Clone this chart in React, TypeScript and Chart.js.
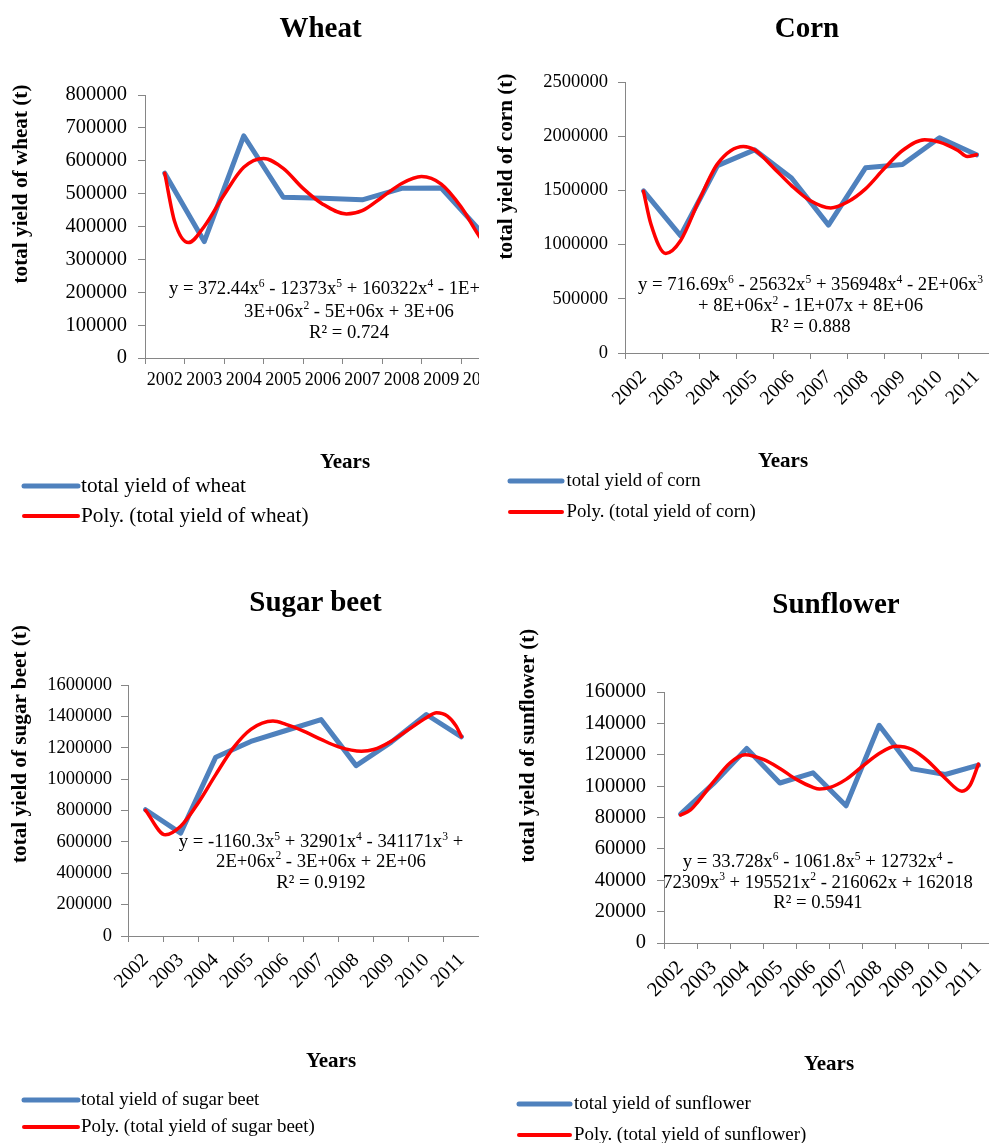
import React, { useEffect, useRef } from 'react';
import { Chart, registerables } from 'chart.js';

Chart.register(...registerables);

// ---------- data ----------
const years = ['2002', '2003', '2004', '2005', '2006', '2007', '2008', '2009', '2010', '2011'];

const wheatYield = [562000, 354000, 676000, 489000, 486000, 481000, 516000, 517000, 385000, 420000];
const wheatTrendX = [0, 0.25, 0.6, 1, 1.5, 2, 2.5, 3, 3.5, 4, 4.6, 5, 5.5, 6, 6.5, 7, 7.5, 8, 8.5, 9];
const wheatTrendY = [562000, 415000, 351000, 400000, 496000, 580000, 607000, 577000, 516000, 468000, 438000, 448000, 489000, 531000, 552000, 529000, 460000, 364000, 300000, 330000];

const cornYield = [1495000, 1082000, 1729000, 1874000, 1615000, 1180000, 1708000, 1739000, 1985000, 1828000];
const cornTrendX = [0, 0.2, 0.6, 1, 1.5, 2, 2.7, 3, 3.5, 4, 4.5, 5.06, 5.5, 6, 6.5, 7, 7.6, 8, 8.5, 8.75, 9];
const cornTrendY = [1492000, 1190000, 919000, 1036000, 1406000, 1745000, 1905000, 1874000, 1714000, 1544000, 1406000, 1338000, 1390000, 1514000, 1699000, 1868000, 1967000, 1945000, 1868000, 1813000, 1828000];

const sugarYield = [805000, 656000, 1140000, 1240000, 1310000, 1380000, 1086000, 1236000, 1412000, 1270000];
const sugarTrendX = [0, 0.565, 1, 1.5, 2, 2.5, 3, 3.63, 4, 4.5, 5, 5.5, 6.15, 6.5, 7, 7.5, 8, 8.29, 8.6, 8.85, 9];
const sugarTrendY = [801000, 645000, 699000, 848000, 1029000, 1199000, 1317000, 1370000, 1349000, 1306000, 1253000, 1206000, 1178000, 1189000, 1242000, 1317000, 1391000, 1423000, 1402000, 1338000, 1270000];

const sunYield = [82200, 101700, 124000, 102000, 108500, 87500, 138800, 111000, 107400, 113400];
const sunTrendX = [0, 0.3, 0.5, 1, 1.5, 1.95, 2.5, 3, 3.5, 4, 4.2, 4.5, 5, 5.5, 6, 6.5, 7, 7.5, 8, 8.5, 8.75, 9];
const sunTrendY = [81600, 84800, 89400, 102800, 114900, 120000, 117000, 111300, 104300, 99200, 98100, 99000, 104300, 112700, 120800, 125400, 123300, 115500, 104900, 96800, 100700, 114000];

const wheatAxis = { max: 800000, step: 100000 };
const cornAxis = { max: 2500000, step: 500000 };
const sugarAxis = { max: 1600000, step: 200000 };
const sunAxis = { max: 160000, step: 20000 };

const wheatEq = ['y = 372.44x^6 - 12373x^5 + 160322x^4 - 1E+06x^3 +', '3E+06x^2 - 5E+06x + 3E+06', 'R² = 0.724'];
const cornEq = ['y = 716.69x^6 - 25632x^5 + 356948x^4 - 2E+06x^3', '+ 8E+06x^2 - 1E+07x + 8E+06', 'R² = 0.888'];
const sugarEq = ['y = -1160.3x^5 + 32901x^4 - 341171x^3 +', '2E+06x^2 - 3E+06x + 2E+06', 'R² = 0.9192'];
const sunEq = ['y = 33.728x^6 - 1061.8x^5 + 12732x^4 -', '72309x^3 + 195521x^2 - 216062x + 162018', 'R² = 0.5941'];

// ---------- styles ----------
const FONT = "'Liberation Serif', 'Times New Roman', serif";
const BLUE = '#4F81BD';
const RED = '#FF0000';
const AXIS = '#868686';
const YW = 110;
const PAD_TOP = 15;
const XH = 80;

type Spec = {
  values: number[];
  tx: number[];
  ty: number[];
  axis: { max: number; step: number };
  L: number; T: number; R: number; B: number;
  yFont: number; yPad: number;
  xFont: number; xPad: number; rot: number;
};

const specs: Record<string, Spec> = {
  wheat: { values: wheatYield, tx: wheatTrendX, ty: wheatTrendY, axis: wheatAxis, L: 145, T: 95, R: 540, B: 358, yFont: 20.5, yPad: 11, xFont: 18, xPad: 5, rot: 0 },
  corn: { values: cornYield, tx: cornTrendX, ty: cornTrendY, axis: cornAxis, L: 625, T: 82, R: 995, B: 353, yFont: 18.5, yPad: 10, xFont: 19.5, xPad: 7, rot: 45 },
  sugar: { values: sugarYield, tx: sugarTrendX, ty: sugarTrendY, axis: sugarAxis, L: 128, T: 685, R: 479, B: 936, yFont: 18.5, yPad: 9, xFont: 19.5, xPad: 7, rot: 45 },
  sun: { values: sunYield, tx: sunTrendX, ty: sunTrendY, axis: sunAxis, L: 664, T: 692, R: 995, B: 943, yFont: 20.5, yPad: 11, xFont: 20.5, xPad: 7, rot: 45 },
};

function buildConfig(s: Spec): any {
  return {
    type: 'line',
    data: {
      labels: years,
      datasets: [
        {
          data: s.tx.map((x, i) => ({ x, y: s.ty[i] })),
          xAxisID: 'x2',
          borderColor: RED,
          borderWidth: 3.5,
          pointRadius: 0,
          cubicInterpolationMode: 'monotone',
          borderCapStyle: 'round',
          fill: false,
          order: 0,
        },
        {
          data: s.values,
          borderColor: BLUE,
          borderWidth: 5,
          pointRadius: 0,
          tension: 0,
          borderCapStyle: 'round',
          borderJoinStyle: 'round',
          fill: false,
          order: 1,
        },
      ],
    },
    options: {
      animation: false,
      responsive: false,
      maintainAspectRatio: false,
      events: [],
      layout: { padding: { top: PAD_TOP, left: 0, right: 0, bottom: 0 } },
      plugins: { legend: { display: false }, tooltip: { enabled: false }, title: { display: false } },
      scales: {
        x: {
          type: 'category',
          offset: true,
          grid: { offset: true, drawOnChartArea: false, drawTicks: true, tickLength: 6, color: AXIS },
          border: { color: AXIS, width: 1 },
          ticks: {
            autoSkip: false,
            minRotation: s.rot,
            maxRotation: s.rot,
            padding: s.xPad,
            color: '#000',
            font: { family: FONT, size: s.xFont },
          },
          afterFit: (sc: any) => {
            sc.height = XH;
            sc.paddingLeft = 0;
            sc.paddingRight = 0;
          },
        },
        x2: { type: 'linear', display: false, min: -0.5, max: 9.5 },
        y: {
          type: 'linear',
          min: 0,
          max: s.axis.max,
          grid: { drawOnChartArea: false, drawTicks: true, tickLength: 7, color: AXIS },
          border: { color: AXIS, width: 1 },
          ticks: {
            stepSize: s.axis.step,
            padding: s.yPad,
            color: '#000',
            font: { family: FONT, size: s.yFont },
            callback: (v: any) => String(v),
          },
          afterFit: (sc: any) => {
            sc.width = YW;
            sc.paddingTop = 0;
            sc.paddingBottom = 0;
          },
        },
      },
    },
  };
}

function ChartCanvas({ s }: { s: Spec }) {
  const ref = useRef<HTMLCanvasElement>(null);
  const cx = s.L - YW;
  const cy = s.T - PAD_TOP;
  const cw = s.R - cx;
  const ch = s.B - cy + XH;
  useEffect(() => {
    const chart = new Chart(ref.current as HTMLCanvasElement, buildConfig(s));
    return () => chart.destroy();
  }, []);
  return (
    <canvas
      ref={ref}
      width={cw}
      height={ch}
      style={{ position: 'absolute', left: cx, top: cy, width: cw, height: ch }}
    />
  );
}

function EqLine({ x, y, text, size }: { x: number; y: number; text: string; size: number }) {
  const parts = text.split(/(\^\d)/).filter((p) => p.length > 0);
  const rise = size * 0.38;
  let raised = false;
  const kids = parts.map((p, i) => {
    if (p.startsWith('^')) {
      raised = true;
      return (
        <tspan key={i} fontSize={size * 0.62} dy={-rise}>
          {p.slice(1)}
        </tspan>
      );
    }
    const dy = raised ? rise : 0;
    raised = false;
    return (
      <tspan key={i} dy={dy}>
        {p}
      </tspan>
    );
  });
  return (
    <text x={x} y={y} textAnchor="middle" fontSize={size} fontFamily={FONT} fill="#000" style={{ whiteSpace: 'pre' }}>
      {kids}
    </text>
  );
}

function Equation({ lines, x, ys, size }: { lines: string[]; x: number; ys: number[]; size: number }) {
  return (
    <g>
      {lines.map((t, i) => (
        <EqLine key={i} x={x} y={ys[i]} text={t} size={size} />
      ))}
    </g>
  );
}

function Title({ x, y, text }: { x: number; y: number; text: string }) {
  return (
    <text x={x} y={y} textAnchor="middle" fontSize={29} fontWeight="bold" fontFamily={FONT} fill="#000">
      {text}
    </text>
  );
}

function YTitle({ x, y, text }: { x: number; y: number; text: string }) {
  return (
    <text
      transform={`translate(${x},${y}) rotate(-90)`}
      textAnchor="middle"
      dominantBaseline="central"
      fontSize={21.2}
      fontWeight="bold"
      fontFamily={FONT}
      fill="#000"
    >
      {text}
    </text>
  );
}

function XTitle({ x, y }: { x: number; y: number }) {
  return (
    <text x={x} y={y} textAnchor="middle" fontSize={21} fontWeight="bold" fontFamily={FONT} fill="#000">
      Years
    </text>
  );
}

function Legend({ x1, x2, tx, y1, y2, size, name }: { x1: number; x2: number; tx: number; y1: number; y2: number; size: number; name: string }) {
  return (
    <g>
      <line x1={x1} x2={x2} y1={y1} y2={y1} stroke={BLUE} strokeWidth={5} strokeLinecap="round" />
      <text x={tx} y={y1 + size * 0.28} fontSize={size} fontFamily={FONT} fill="#000">
        {name}
      </text>
      <line x1={x1} x2={x2} y1={y2} y2={y2} stroke={RED} strokeWidth={4} strokeLinecap="round" />
      <text x={tx} y={y2 + size * 0.28} fontSize={size} fontFamily={FONT} fill="#000">
        {'Poly. (' + name + ')'}
      </text>
    </g>
  );
}

export default function App() {
  return (
    <div
      style={{
        position: 'absolute',
        left: 0,
        top: 0,
        width: 989,
        height: 1143,
        overflow: 'hidden',
        background: '#fff',
      }}
    >
      <div style={{ position: 'absolute', left: 0, top: 0, width: 479, height: 600, overflow: 'hidden' }}>
        <ChartCanvas s={specs.wheat} />
      </div>
      <ChartCanvas s={specs.corn} />
      <ChartCanvas s={specs.sugar} />
      <ChartCanvas s={specs.sun} />
      <svg
        width={989}
        height={1143}
        style={{ position: 'absolute', left: 0, top: 0, pointerEvents: 'none' }}
      >
        <defs>
          <clipPath id="wheatClip">
            <rect x={0} y={0} width={479} height={600} />
          </clipPath>
        </defs>
        {/* Wheat */}
        <Title x={320.5} y={37} text="Wheat" />
        <YTitle x={19.5} y={184} text="total yield of wheat (t)" />
        <g clipPath="url(#wheatClip)">
          <Equation lines={wheatEq} x={349} ys={[294, 316.5, 337.5]} size={18.7} />
        </g>
        <XTitle x={345} y={468} />
        <Legend x1={24} x2={78} tx={81} y1={486} y2={516} size={21.3} name="total yield of wheat" />

        {/* Corn */}
        <Title x={807} y={37} text="Corn" />
        <YTitle x={505} y={166.5} text="total yield of corn (t)" />
        <Equation lines={cornEq} x={810.5} ys={[290, 310.7, 331.5]} size={18.7} />
        <XTitle x={783} y={467} />
        <Legend x1={510} x2={562} tx={566.5} y1={481} y2={512} size={18.8} name="total yield of corn" />

        {/* Sugar beet */}
        <Title x={315.5} y={611} text="Sugar beet" />
        <YTitle x={18.5} y={744} text="total yield of sugar beet (t)" />
        <Equation lines={sugarEq} x={321} ys={[846.7, 866.5, 887.5]} size={18.7} />
        <XTitle x={331} y={1067} />
        <Legend x1={24} x2={78} tx={81} y1={1100} y2={1127} size={18.9} name="total yield of sugar beet" />

        {/* Sunflower */}
        <Title x={836} y={613} text="Sunflower" />
        <YTitle x={527} y={745.5} text="total yield of sunflower (t)" />
        <Equation lines={sunEq} x={818} ys={[867, 887.5, 908]} size={18.7} />
        <XTitle x={829} y={1070} />
        <Legend x1={519} x2={570} tx={574} y1={1104} y2={1135} size={18.9} name="total yield of sunflower" />
      </svg>
    </div>
  );
}
